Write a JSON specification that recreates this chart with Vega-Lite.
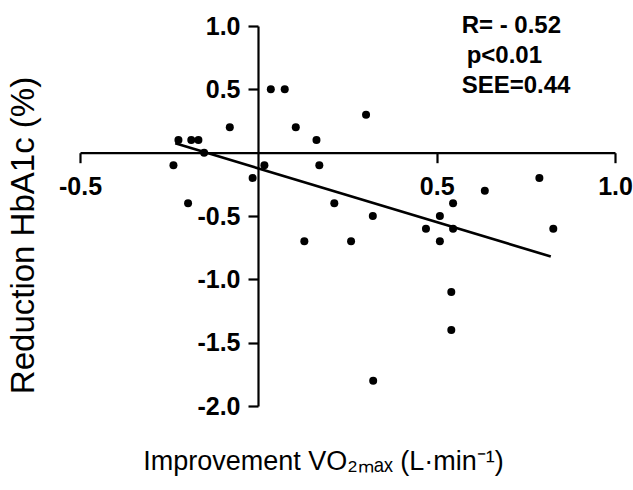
{
  "$schema": "https://vega.github.io/schema/vega-lite/v6.json",
  "autosize": {"type": "none"},
  "width": 535,
  "height": 380,
  "padding": {"left": 80, "top": 26, "right": 18, "bottom": 84},
  "background": "white",
  "config": {"view": {"stroke": null}, "font": "Liberation Sans"},
  "datasets": {
    "points": [
      {"x": -0.238, "y": -0.1}, {"x": -0.224, "y": 0.1}, {"x": -0.197, "y": -0.4},
      {"x": -0.188, "y": 0.1}, {"x": -0.168, "y": 0.1}, {"x": -0.152, "y": 0.0},
      {"x": -0.08, "y": 0.2}, {"x": -0.016, "y": -0.2}, {"x": 0.017, "y": -0.1},
      {"x": 0.035, "y": 0.5}, {"x": 0.074, "y": 0.5}, {"x": 0.105, "y": 0.2},
      {"x": 0.129, "y": -0.7}, {"x": 0.163, "y": 0.1}, {"x": 0.171, "y": -0.1},
      {"x": 0.213, "y": -0.4}, {"x": 0.26, "y": -0.7}, {"x": 0.302, "y": 0.3},
      {"x": 0.321, "y": -0.5}, {"x": 0.322, "y": -1.8}, {"x": 0.47, "y": -0.6},
      {"x": 0.509, "y": -0.5}, {"x": 0.509, "y": -0.7}, {"x": 0.546, "y": -0.4},
      {"x": 0.546, "y": -0.6}, {"x": 0.541, "y": -1.1}, {"x": 0.541, "y": -1.4},
      {"x": 0.635, "y": -0.3}, {"x": 0.788, "y": -0.2}, {"x": 0.827, "y": -0.6}
    ],
    "fit": [
      {"x": -0.233, "y": 0.074},
      {"x": 0.82, "y": -0.82}
    ],
    "notes": [
      {"x": 0.57, "y": 0.945, "label": "R= - 0.52"},
      {"x": 0.584, "y": 0.708, "label": "p<0.01"},
      {"x": 0.57, "y": 0.471, "label": "SEE=0.44"}
    ]
  },
  "encoding": {
    "x": {
      "field": "x", "type": "quantitative",
      "scale": {"domain": [-0.5, 1.0], "nice": false, "zero": false},
      "axis": {
        "orient": "bottom", "offset": -253.3,
        "values": [-0.5, 0.5, 1.0],
        "labelExpr": "replace(format(datum.value, '.1f'), '−', '-')",
        "grid": false, "labelFlush": false, "labelOverlap": false, "labelBound": false,
        "domainColor": "black", "domainWidth": 2.2,
        "tickColor": "black", "tickWidth": 2.2, "tickSize": 10,
        "labelColor": "black", "labelFont": "Liberation Sans", "labelFontSize": 25, "labelFontWeight": "bold", "labelPadding": 12,
        "title": "Improvement VO₂ₘₐₓ (L·min⁻¹)",
        "titleColor": "black", "titleFont": "Liberation Sans", "titleFontSize": 27, "titleFontWeight": "normal",
        "titleX": 243, "titleY": 317, "titleAlign": "center", "titleBaseline": "alphabetic"
      }
    },
    "y": {
      "field": "y", "type": "quantitative",
      "scale": {"domain": [-2.0, 1.0], "nice": false, "zero": false},
      "axis": {
        "orient": "left", "offset": -178,
        "values": [-2.0, -1.5, -1.0, -0.5, 0.5, 1.0],
        "labelExpr": "replace(format(datum.value, '.1f'), '−', '-')",
        "grid": false, "labelOverlap": false, "labelBound": false, "labelFlush": false,
        "domainColor": "black", "domainWidth": 2.2,
        "tickColor": "black", "tickWidth": 2.2, "tickSize": 10,
        "labelColor": "black", "labelFont": "Liberation Sans", "labelFontSize": 25, "labelFontWeight": "bold", "labelPadding": 8,
        "title": "Reduction HbA1c (%)",
        "titleColor": "black", "titleFont": "Liberation Sans", "titleFontSize": 33, "titleFontWeight": "normal",
        "titleX": -225, "titleY": 209, "titleAlign": "center", "titleBaseline": "alphabetic", "titleAngle": -90
      }
    }
  },
  "layer": [
    {
      "data": {"name": "fit"},
      "mark": {"type": "line", "color": "black", "strokeWidth": 2.6}
    },
    {
      "data": {"name": "points"},
      "mark": {"type": "circle", "color": "black", "opacity": 1, "size": 64}
    },
    {
      "data": {"name": "notes"},
      "mark": {"type": "text", "align": "left", "baseline": "alphabetic", "font": "Liberation Sans", "fontSize": 24, "fontWeight": "bold", "color": "black"},
      "encoding": {"text": {"field": "label", "type": "nominal"}}
    }
  ]
}
